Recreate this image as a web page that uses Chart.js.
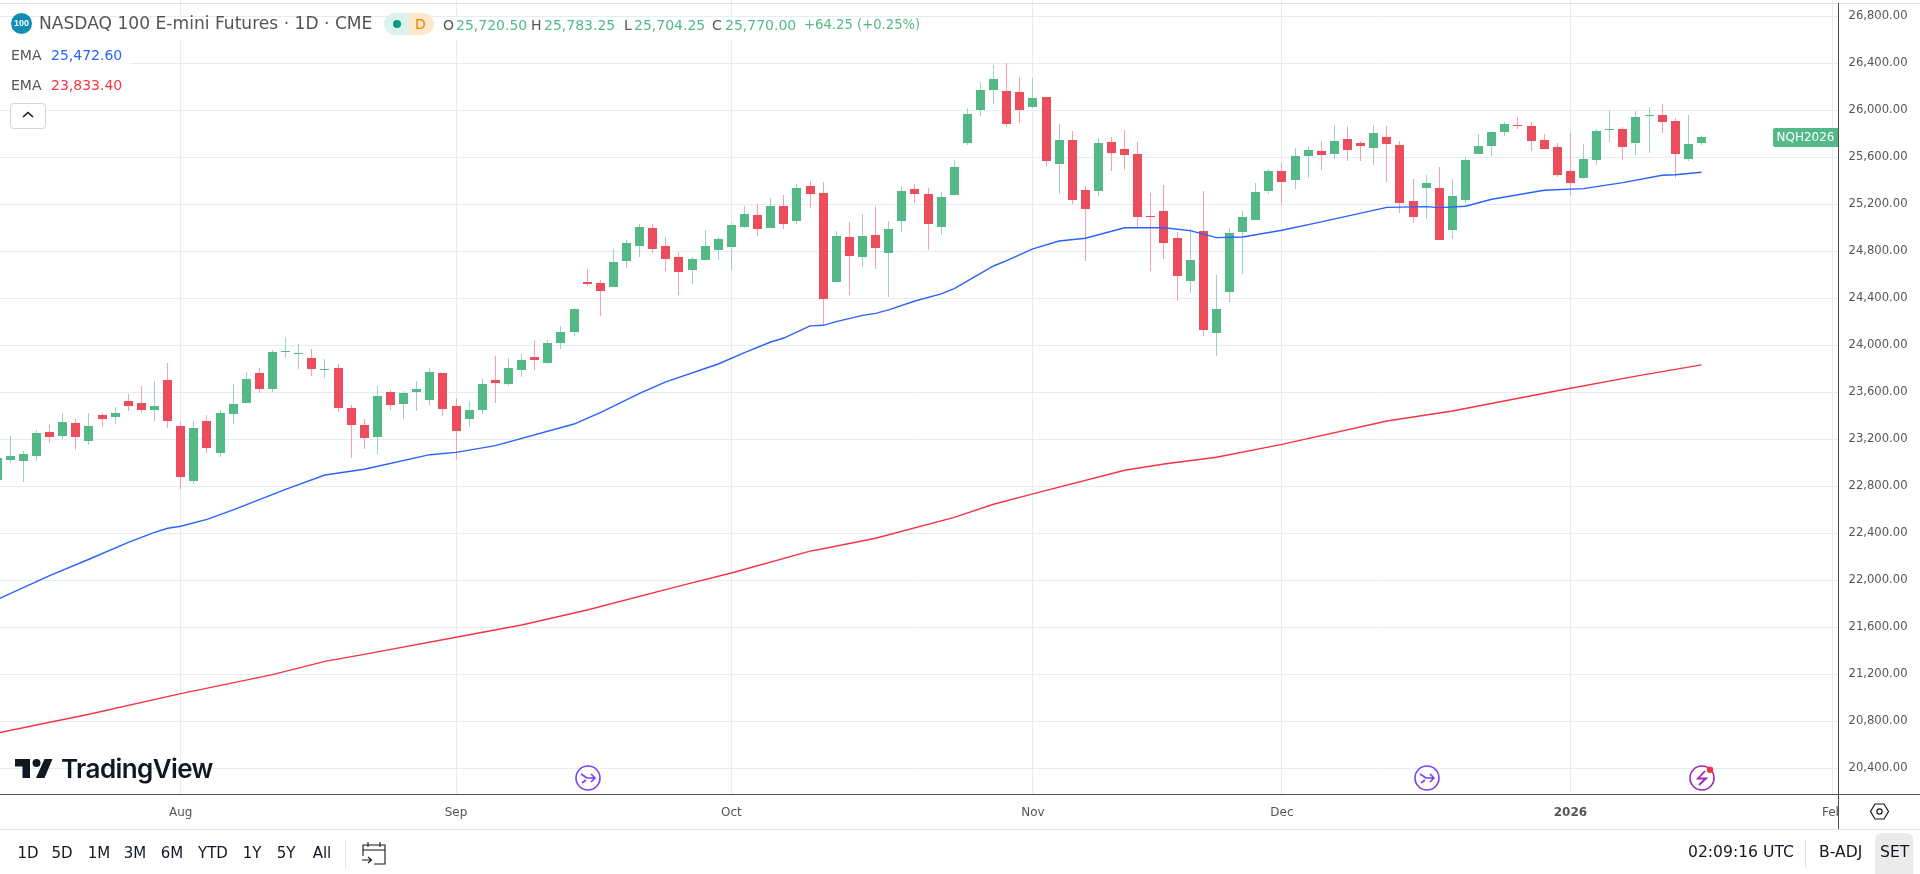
<!DOCTYPE html>
<html>
<head>
<meta charset="utf-8">
<title>NASDAQ 100 E-mini Futures</title>
<script src="https://cdn.jsdelivr.net/npm/chart.js@4"></script>
<style>
    html, body { margin: 0; padding: 0; background: #fff; overflow: hidden; }
    body { width: 1920px; height: 874px; position: relative; font-family: "DejaVu Sans", sans-serif; color: #131722; }
    canvas { position: absolute; left: 0; top: 0; }
    .abs { position: absolute; white-space: nowrap; line-height: 1; }
    .grey { color: #555; }
    .up { color: #53b987; }
    svg { position: absolute; overflow: visible; }
</style>
</head>
<body>
<canvas id="price-chart" width="1920" height="874"></canvas>

<!-- Legend -->
<div class="abs" style="left:8px;top:17px;width:950px;height:23px;background:rgba(255,255,255,.85)"></div>
<div class="abs" style="left:0;top:42px;width:130px;height:25px;background:#fff"></div>
<div class="abs" style="left:0;top:72px;width:130px;height:25px;background:#fff"></div>
<div class="abs" style="left:11px;top:13px;width:21px;height:21px;border-radius:50%;background:#0e8db5;color:#fff;font:bold 9px/21px 'Liberation Sans';text-align:center">100</div>
<div class="abs grey" style="left:39px;top:15px;font-size:17.1px">NASDAQ 100 E-mini Futures · 1D · CME</div>
<div class="abs" style="left:384px;top:13px;width:25px;height:22px;background:#dcf2ee;border-radius:11px 0 0 11px"></div>
<div class="abs" style="left:409px;top:13px;width:25px;height:22px;background:#ffe7c9;border-radius:0 11px 11px 0"></div>
<div class="abs" style="left:393px;top:20px;width:8px;height:8px;border-radius:50%;background:#089981"></div>
<div class="abs" style="left:415px;top:17px;font-size:14px;color:#f57c00">D</div>
<div id="ohlc-row"></div>
<div class="abs grey" style="left:11px;top:48px;font-size:14px">EMA</div>
<div class="abs" style="left:51px;top:48px;font-size:14px;color:#2962ff" id="ema-fast-label"></div>
<div class="abs grey" style="left:11px;top:78px;font-size:14px">EMA</div>
<div class="abs" style="left:51px;top:78px;font-size:14px;color:#f23645" id="ema-slow-label"></div>
<div class="abs" style="left:10px;top:103px;width:34px;height:24px;border:1px solid #d4d4d8;border-radius:4px;background:#fff"></div>
<svg style="left:22px;top:111px" width="12" height="8"><path d="M1 6 L6 1.5 L11 6" fill="none" stroke="#131722" stroke-width="1.6"/></svg>

<!-- Logo -->
<svg style="left:15px;top:759px" width="38" height="19">
    <path d="M0 0 H15 V19 H7.5 V7.5 H0 Z" fill="#131722"/>
    <circle cx="21.5" cy="4" r="4" fill="#131722"/>
    <path d="M29.5 0 H37.5 L29.5 19 H21 Z" fill="#131722"/>
</svg>
<div class="abs" style="left:61px;top:755px;font:600 26px/28px Inter;letter-spacing:-.6px;color:#131722">TradingView</div>

<!-- Event markers -->
<svg style="left:575px;top:765px" width="26" height="26">
    <circle cx="13" cy="13" r="12" fill="#fff" stroke="#7e3ff2" stroke-width="1.6"/>
    <path d="M6 9 L12 13 H20 M16 9 L20 13 L16 17 M11 15 L7 18" fill="none" stroke="#7e3ff2" stroke-width="1.6"/>
</svg>
<svg style="left:1414px;top:765px" width="26" height="26">
    <circle cx="13" cy="13" r="12" fill="#fff" stroke="#7e3ff2" stroke-width="1.6"/>
    <path d="M6 9 L12 13 H20 M16 9 L20 13 L16 17 M11 15 L7 18" fill="none" stroke="#7e3ff2" stroke-width="1.6"/>
</svg>
<svg style="left:1689px;top:765px" width="28" height="26">
    <circle cx="13" cy="13" r="12" fill="#fff" stroke="#9c27b0" stroke-width="1.6"/>
    <path d="M16 6 L9 13.5 H17 L10 20" fill="none" stroke="#9c27b0" stroke-width="1.8"/>
    <circle cx="21" cy="4.7" r="3.3" fill="#f23645"/>
</svg>

<!-- Settings hexagon on the time axis -->
<svg style="left:1870px;top:803px" width="19" height="17">
    <path d="M5 1 H14 L18.5 8.5 L14 16 H5 L.5 8.5 Z" fill="none" stroke="#131722" stroke-width="1.2"/>
    <circle cx="9.5" cy="8.5" r="2.6" fill="none" stroke="#131722" stroke-width="1.2"/>
</svg>

<!-- Bottom toolbar -->
<div id="range-buttons"></div>
<div class="abs" style="left:345px;top:840px;width:1px;height:28px;background:#e0e3eb"></div>
<svg style="left:362px;top:841px" width="24" height="24" fill="none" stroke="#131722" stroke-width="1.1">
    <path d="M1 15 V4 H23 V23 H12 M1 9 H23 M6 1 V6 M18 1 V6 M0 19 H9 M6 16 L9.5 19 L6 22"/>
</svg>
<div class="abs" style="left:1688px;top:845px;font-size:15.6px">02:09:16 UTC</div>
<div class="abs" style="left:1805px;top:840px;width:1px;height:28px;background:#e0e3eb"></div>
<div class="abs" style="left:1819px;top:845px;font-size:15.6px">B-ADJ</div>
<div class="abs" style="left:1875px;top:833px;width:38px;height:41px;background:#ebebeb;border-radius:6px 6px 0 0"></div>
<div class="abs" style="left:1880px;top:845px;font-size:15.6px">SET</div>

<script>
// Daily bars, July 2025 to January 2026
const opens = [22854,23024,23016,23058,23262,23228,23339,23186,23407,23390,23526,23509,23450,23705,23313,22845,23356,23084,23416,23509,23765,23628,23943,23926,23892,23790,23807,23467,23322,23220,23603,23501,23603,23535,23765,23484,23373,23450,23705,23671,23790,23901,23850,24020,24113,24539,24530,24496,24718,24845,24999,24845,24752,24641,24726,24811,24837,25007,25109,24999,25186,25058,25356,25297,24539,24922,24752,24939,24786,25058,25331,25288,25007,25279,25722,26003,26173,26165,26156,26028,26113,25543,25748,25322,25313,25731,25671,25628,25101,25143,24913,24547,24973,24105,24454,24964,25067,25313,25484,25407,25611,25654,25628,25756,25722,25679,25773,25705,25228,25339,25339,24981,25237,25628,25696,25815,25875,25867,25747,25688,25484,25424,25577,25833,25841,25722,25952,25960,25909,25586,25720.5];
const highs = [23067,23228,23101,23279,23322,23424,23373,23424,23424,23475,23586,23654,23696,23850,23348,23356,23407,23450,23671,23773,23807,23960,24071,24011,23969,23884,23841,23492,23373,23654,23620,23611,23696,23807,23765,23552,23526,23713,23909,23892,23926,24045,24045,24165,24318,24650,24556,24820,24896,25033,25033,24922,24794,24752,24982,24922,25041,25186,25203,25254,25279,25373,25399,25390,24973,25050,25118,25186,25058,25356,25373,25339,25305,25577,26020,26241,26386,26403,26284,26275,26113,25884,25824,25356,25765,25773,25833,25731,25296,25365,24964,24990,25313,24598,24998,25143,25381,25501,25552,25679,25688,25739,25875,25867,25739,25875,25867,25739,25416,25450,25518,25416,25603,25798,25824,25901,25943,25901,25798,25722,25807,25713,25841,26003,25858,25994,26028,26054,25935,25960,25783.25];
const lows = [22811,22998,22837,23016,23169,23203,23109,23152,23305,23330,23441,23424,23356,23296,22777,22820,23084,23050,23330,23509,23594,23603,23892,23799,23739,23722,23433,23041,23118,23075,23450,23373,23441,23492,23399,23024,23305,23416,23509,23654,23730,23790,23841,23969,24079,24505,24250,24496,24658,24752,24786,24633,24428,24522,24726,24726,24641,24999,24931,24999,24990,25033,25169,24165,24539,24428,24667,24650,24411,24965,25211,24811,24939,25279,25705,25952,26054,25858,25892,26020,25526,25288,25203,24718,25271,25484,25492,25007,24633,24735,24377,24445,24079,23909,24369,24607,25067,25288,25194,25330,25424,25492,25586,25569,25569,25535,25390,25126,25041,25075,24896,24905,25211,25628,25611,25781,25841,25654,25671,25433,25271,25416,25535,25730,25577,25620,25637,25807,25424,25569,25704.25];
const closes = [23041,23058,23075,23254,23220,23348,23220,23313,23373,23424,23484,23450,23484,23356,22879,23296,23126,23424,23501,23713,23628,23943,23952,23935,23799,23799,23467,23322,23211,23569,23492,23594,23628,23773,23458,23271,23450,23671,23679,23807,23875,23875,24020,24113,24309,24522,24462,24709,24871,25007,24820,24735,24624,24735,24845,24905,25024,25118,24990,25186,25033,25339,25288,24394,24931,24760,24931,24828,24990,25314,25288,25033,25262,25518,25969,26173,26267,25884,26003,26105,25569,25748,25237,25160,25722,25637,25620,25092,25092,24871,24590,24726,24130,24309,24956,25092,25305,25484,25390,25611,25662,25620,25739,25662,25696,25807,25713,25211,25092,25381,24896,25271,25577,25696,25815,25884,25867,25739,25671,25450,25381,25586,25824,25841,25688,25943,25960,25901,25628,25713,25770];
const netChange = "+64.25";
const pctChange = "(+0.25%)";

// EMA vertices, bar index and value
const emaFastBars = [0,4,7,10,12,13,14,16,18,22,25,28,33,35,38,44,46,49,51,55,57,59,60,62,63,64,66,67,68,70,72,73,76,77,79,81,83,86,89,91,93,95,98,101,106,109,110,112,114,118,121,124,127,128,130];
const emaFastValues = [21837,22040,22179,22323,22408,22443,22460,22519,22600,22774,22896,22945,23069,23089,23146,23330,23427,23591,23688,23841,23937,24028,24062,24165,24170,24201,24255,24272,24301,24377,24437,24482,24675,24720,24820,24888,24911,25000,25001,24976,24916,24922,24979,25050,25174,25180,25172,25183,25243,25319,25333,25384,25447,25452,25472.6];
const emaSlowBars = [0,7,14,21,25,28,35,40,45,52,56,62,63,67,73,76,79,86,89,93,98,106,111,119,125,130];
const emaSlowValues = [20700,20860,21035,21197,21310,21370,21515,21620,21747,21950,22062,22248,22268,22358,22536,22647,22735,22937,22990,23047,23157,23356,23441,23613,23738,23833.4];

const priceTicks = [26800,26400,26000,25600,25200,24800,24400,24000,23600,23200,22800,22400,22000,21600,21200,20800,20400];
const monthTickBars = [14,35,56,79,98,120,140];
const monthTickLabels = ["Aug","Sep","Oct","Nov","Dec","2026","Feb"];
const rangeLabels = ["1D","5D","1M","3M","6M","YTD","1Y","5Y","All"];
const rangeCenters = [28,62,99,135,172,213,252,286,322];

const GREEN = "#53b987";
const RED = "#eb4d5c";
const GREEN_WICK = "#a3cccc";
const RED_WICK = "#f6a0ad";
const GRID = "#e4edf3";
const AXIS_LINE = "#4d4d4d";

function fmt(v) {
    return v.toLocaleString("en-US", { minimumFractionDigits: 2, maximumFractionDigits: 2 });
}

// Legend values come from the last bar and the last EMA points
const last = opens.length - 1;
const ohlcItems = [
    ["O", opens[last], 443, 456], ["H", highs[last], 531, 544],
    ["L", lows[last], 624, 634], ["C", closes[last], 712, 725]
];
const ohlcRow = document.getElementById("ohlc-row");
ohlcItems.forEach(([letter, value, lx, vx]) => {
    ohlcRow.insertAdjacentHTML("beforeend",
        `<div class="abs grey" style="left:${lx}px;top:18px;font-size:14px">${letter}</div>` +
        `<div class="abs up" style="left:${vx}px;top:18px;font-size:14px">${fmt(value)}</div>`);
});
ohlcRow.insertAdjacentHTML("beforeend",
    `<div class="abs up" style="left:804px;top:18px;font-size:13.2px">${netChange} ${pctChange}</div>`);
document.getElementById("ema-fast-label").textContent = fmt(emaFastValues[emaFastValues.length - 1]);
document.getElementById("ema-slow-label").textContent = fmt(emaSlowValues[emaSlowValues.length - 1]);

const rangeBox = document.getElementById("range-buttons");
rangeLabels.forEach((label, i) => {
    rangeBox.insertAdjacentHTML("beforeend",
        `<div class="abs" style="left:${rangeCenters[i] - 25}px;width:50px;top:846px;font-size:15px;text-align:center">${label}</div>`);
});

// Snap bars to whole pixels so bodies and wicks stay crisp
const crispBars = {
    id: "crispBars",
    beforeDatasetsDraw(chart) {
        chart.data.datasets.forEach((ds, d) => {
            if (ds.type !== "bar") return;
            chart.getDatasetMeta(d).data.forEach(el => {
                el.x = Math.floor(el.x) + 0.5;
                el.y = Math.round(el.y);
                el.base = Math.round(el.base);
                if (el.y === el.base) el.base = el.y + 1;
            });
        });
    }
};

// Pane frame and the contract tag on the price axis
const paneFrame = {
    id: "paneFrame",
    afterDatasetsDraw(chart) {
        const { ctx, chartArea } = chart;
        ctx.save();
        ctx.fillStyle = "#fff";
        ctx.fillRect(chartArea.right, chartArea.bottom, chart.width - chartArea.right, 35);
        ctx.restore();
    },
    afterDraw(chart) {
        const { ctx } = chart;
        ctx.save();
        ctx.fillStyle = "#e0e3eb";
        ctx.fillRect(0, 3, chart.width, 1);
        ctx.fillRect(0, 829, chart.width, 1);
        ctx.fillStyle = AXIS_LINE;
        ctx.fillRect(0, 794, chart.width, 1);
        ctx.fillRect(1838, 3, 1, 826);

        const y = chart.scales.y.getPixelForValue(closes[last]);
        ctx.fillStyle = GREEN;
        ctx.beginPath();
        ctx.roundRect(1773, Math.round(y) - 9, 65, 19, [2, 0, 0, 2]);
        ctx.fill();
        ctx.fillStyle = "#fff";
        ctx.font = "12px 'DejaVu Sans'";
        ctx.textAlign = "center";
        ctx.textBaseline = "middle";
        ctx.fillText("NQH2026", 1805.5, Math.round(y) + 0.5);
        ctx.restore();
    }
};

new Chart(document.getElementById("price-chart").getContext("2d"), {
    type: "bar",
    data: {
        datasets: [
            {
                type: "line", label: "EMA fast",
                data: emaFastBars.map((x, i) => ({ x: x, y: emaFastValues[i] })),
                borderColor: "#2962ff", borderWidth: 1.4, pointRadius: 0, tension: 0
            },
            {
                type: "line", label: "EMA slow",
                data: emaSlowBars.map((x, i) => ({ x: x, y: emaSlowValues[i] })),
                borderColor: "#f23645", borderWidth: 1.4, pointRadius: 0, tension: 0
            },
            {
                type: "bar", label: "Body", grouped: false, maxBarThickness: 9, inflateAmount: 0,
                data: opens.map((o, i) => ({ x: i, y: [o, closes[i]] })),
                backgroundColor: opens.map((o, i) => closes[i] >= o ? GREEN : RED)
            },
            {
                type: "bar", label: "Wick", grouped: false, maxBarThickness: 1, inflateAmount: 0,
                data: lows.map((l, i) => ({ x: i, y: [l, highs[i]] })),
                backgroundColor: opens.map((o, i) => closes[i] >= o ? GREEN_WICK : RED_WICK)
            }
        ]
    },
    options: {
        responsive: false,
        animation: false,
        events: [],
        layout: { padding: 0, autoPadding: false },
        plugins: { legend: { display: false }, tooltip: { enabled: false } },
        scales: {
            x: {
                type: "linear",
                offset: false,
                min: 0.2136,
                max: 140.45,
                grid: { color: GRID, offset: false, drawTicks: false },
                border: { display: false },
                afterBuildTicks(scale) { scale.ticks = monthTickBars.map(v => ({ value: v })); },
                afterFit(scale) {
                    scale.height = 79.5;
                    scale.paddingLeft = 0;
                    scale.paddingRight = 0;
                },
                ticks: {
                    autoSkip: false, maxRotation: 0, padding: 11, color: "#555",
                    font: ctx => ({ family: "DejaVu Sans", size: 12, weight: monthTickLabels[ctx.index] === "2026" ? "bold" : "normal" }),
                    callback: (v, i) => monthTickLabels[i]
                }
            },
            y: {
                type: "linear",
                position: "right",
                beginAtZero: false,
                min: 20177,
                max: 26938.7,
                grid: { color: GRID, drawTicks: false },
                border: { display: false, z: 1 },
                afterBuildTicks(scale) { scale.ticks = priceTicks.map(v => ({ value: v })); },
                afterFit(scale) {
                    scale.width = 81.5;
                    scale.paddingTop = 0;
                    scale.paddingBottom = 0;
                },
                ticks: {
                    z: 1, padding: 10, color: "#555",
                    font: { family: "DejaVu Sans", size: 11.6 },
                    callback: v => fmt(v)
                }
            }
        }
    },
    plugins: [crispBars, paneFrame]
});
</script>
</body>
</html>
